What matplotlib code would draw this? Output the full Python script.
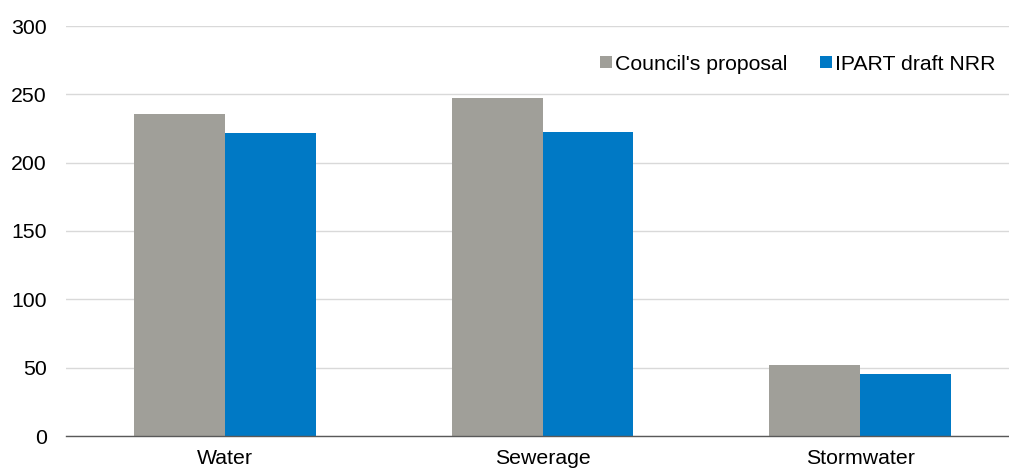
import matplotlib
matplotlib.use("Agg")
import matplotlib.pyplot as plt
import numpy as np

categories = ["Water", "Sewerage", "Stormwater"]
council = [235.5, 247.0, 52.2]
ipart = [221.5, 222.2, 45.6]
series_names = ["Council's proposal", "IPART draft NRR"]
yticks = [0, 50, 100, 150, 200, 250, 300]

plt.rcParams['font.family'] = ['Liberation Sans', 'DejaVu Sans']

W, H = 1009, 468
fs = 15.3
fig = plt.figure(figsize=(W/100, H/100), dpi=100)
ax = fig.add_axes([66/W, (H-436)/H, (1019-66)/W, 410/H])

x = np.arange(len(categories))
bw = 0.286
gray = "#A09F99"
blue = "#0079C5"
ax.bar(x - bw/2, council, bw, color=gray, label=series_names[0], zorder=3)
ax.bar(x + bw/2, ipart, bw, color=blue, label=series_names[1], zorder=3)

ax.set_xlim(-0.5, 2.5)
ax.set_ylim(0, 300)
ax.set_yticks(yticks)
ax.set_yticklabels([str(v) for v in yticks], fontsize=fs, color="#000000")
ax.set_xticks(x)
ax.set_xticklabels(categories, fontsize=fs)
ax.tick_params(axis='y', length=0, pad=14)
ax.tick_params(axis='x', length=0, pad=9)
ax.grid(axis='y', color="#D9D9D9", linewidth=1, zorder=0)
for s in ['top', 'right', 'left']:
    ax.spines[s].set_visible(False)
ax.spines['bottom'].set_color("#595959")
ax.spines['bottom'].set_linewidth(1)
ax.spines['bottom'].set_zorder(4)

leg = ax.legend(loc='center left', bbox_to_anchor=(600/W, (H-64)/H), bbox_transform=fig.transFigure,
                ncol=2, frameon=False, fontsize=fs, handlelength=0.56, handleheight=0.56,
                handletextpad=0.15, columnspacing=1.55, borderaxespad=0, borderpad=0)

fig.savefig("out.png", dpi=100)
